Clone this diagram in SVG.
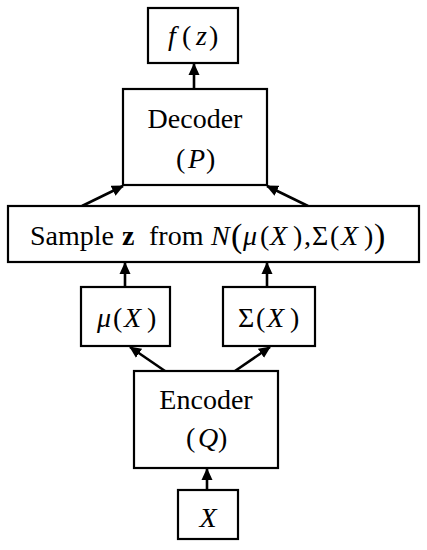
<svg xmlns="http://www.w3.org/2000/svg" width="427" height="550" viewBox="0 0 427 550">
<style>
.box{fill:#fff;stroke:#000;stroke-width:2.2}
.t{font-family:"Liberation Serif","Times New Roman",serif;font-size:28px;fill:#000;text-anchor:middle}
.s{font-family:"Liberation Serif","Times New Roman",serif;font-size:28px;fill:#000}
.i{font-style:italic}
.c{stroke:#000;stroke-width:2.6;fill:none;marker-end:url(#ah)}
</style>
<defs>
<marker id="ah" markerUnits="userSpaceOnUse" markerWidth="12" markerHeight="12" viewBox="0 0 12 12" refX="11" refY="6" orient="auto">
<path d="M0,0.5 L12,6 L0,11.5 Z" fill="#000"/>
</marker>
</defs>
<g id="connectors">
<line class="c" x1="194" y1="89" x2="194" y2="64"/>
<line class="c" x1="82" y1="206" x2="123" y2="186"/>
<line class="c" x1="308" y1="206" x2="267" y2="186"/>
<line class="c" x1="125" y1="287" x2="125" y2="263"/>
<line class="c" x1="267" y1="287" x2="267" y2="263"/>
<line class="c" x1="165" y1="371" x2="130" y2="347"/>
<line class="c" x1="235" y1="371" x2="270" y2="347"/>
<line class="c" x1="207" y1="490" x2="207" y2="469"/>
</g>
<g id="fz">
<rect class="box" x="148" y="8" width="90" height="55"/>
<text class="s" y="45"><tspan class="i" x="168">f</tspan><tspan x="182">(</tspan><tspan class="i" x="196">z</tspan><tspan x="209">)</tspan></text>
</g>
<g id="decoder">
<rect class="box" x="123" y="89" width="144" height="96"/>
<text class="t" x="195" y="128">Decoder</text>
<text class="s" y="168"><tspan x="176">(</tspan><tspan class="i" x="188">P</tspan><tspan x="206">)</tspan></text>
</g>
<g id="sample">
<rect class="box" x="8" y="206" width="411" height="56"/>
<text class="s" y="245"><tspan x="30">Sample</tspan><tspan x="122" font-weight="bold">z</tspan><tspan x="149">from</tspan><tspan class="i" x="211">N</tspan><tspan x="231" font-size="34" dy="2">(</tspan><tspan class="i" x="243" dy="-2">μ</tspan><tspan x="260">(</tspan><tspan class="i" x="270">X</tspan><tspan x="293">)</tspan><tspan x="304">,</tspan><tspan x="312">Σ</tspan><tspan x="330">(</tspan><tspan class="i" x="341">X</tspan><tspan x="364">)</tspan><tspan x="374" font-size="34" dy="2">)</tspan></text>
</g>
<g id="mu">
<rect class="box" x="81" y="287" width="89" height="59"/>
<text class="s" y="327"><tspan class="i" x="97">μ</tspan><tspan x="113">(</tspan><tspan class="i" x="124">X</tspan><tspan x="147">)</tspan></text>
</g>
<g id="sigma">
<rect class="box" x="223" y="287" width="92" height="59"/>
<text class="s" y="327"><tspan x="238">Σ</tspan><tspan x="256">(</tspan><tspan class="i" x="267">X</tspan><tspan x="290">)</tspan></text>
</g>
<g id="encoder">
<rect class="box" x="134" y="371" width="144" height="97"/>
<text class="t" x="206" y="409">Encoder</text>
<text class="s" y="447"><tspan x="186">(</tspan><tspan class="i" x="198">Q</tspan><tspan x="218">)</tspan></text>
</g>
<g id="x">
<rect class="box" x="178" y="490" width="60" height="49"/>
<text class="t" x="208" y="527"><tspan class="i">X</tspan></text>
</g>
</svg>
